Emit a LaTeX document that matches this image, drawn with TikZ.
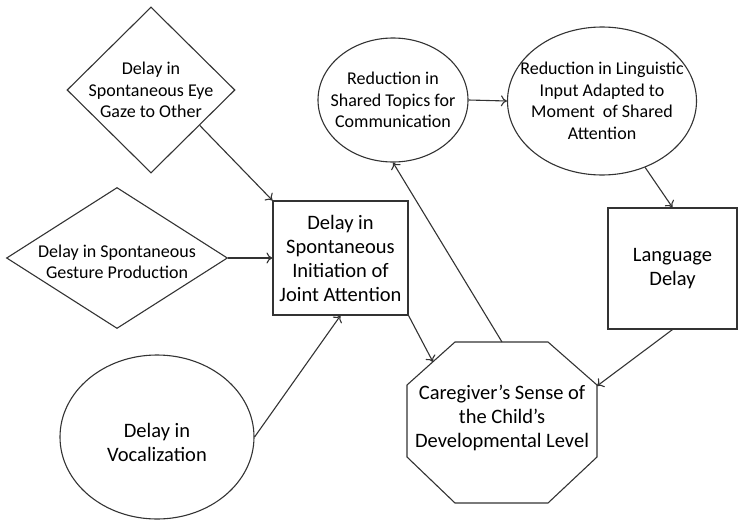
\documentclass[tikz,border=0pt]{standalone}
\usepackage{fontspec}
\setmainfont{Carlito}
\usetikzlibrary{arrows.meta,shapes.geometric}
\tikzset{smalltext/.style={font=\fontsize{18}{21.5}\selectfont,align=center},
         bigtext/.style={font=\fontsize{20.5}{24}\selectfont,align=center},
         blk/.style={draw=black!80,line width=1.1pt,inner sep=0pt},
         octline/.style={draw=black!80,line width=1.1pt,line join=round},
         link/.style={-{To[length=6pt,width=11pt]},draw=black!80,line width=1.1pt}}

\begin{document}
\begin{tikzpicture}[x=1pt,y=-1pt]
\useasboundingbox (0,0) rectangle (738,522);

\node[blk,diamond,minimum width=168pt,minimum height=166pt,
      label={[smalltext]center:{Delay in\\Spontaneous Eye\\Gaze to Other}}] (gaze) at (151,90) {};
\node[blk,diamond,minimum width=221pt,minimum height=141pt,
      label={[smalltext,yshift=-4pt]center:{Delay in Spontaneous\\Gesture Production}}] (gesture) at (117,258) {};
\node[blk,ellipse,minimum width=194pt,minimum height=164pt,
      label={[bigtext,yshift=-5pt]center:{Delay in\\Vocalization}}] (vocal) at (157,437) {};

\node[blk,bigtext,rectangle,minimum width=135pt,minimum height=114pt] (joint) at (340.5,258) {Delay in\\Spontaneous\\Initiation of\\Joint Attention};

\node[blk,ellipse,minimum width=150pt,minimum height=124pt,
      label={[smalltext]center:{Reduction in\\Shared Topics for\\Communication}}] (topics) at (393,100) {};
\node[blk,ellipse,minimum width=189pt,minimum height=148pt,
      label={[smalltext]center:{Reduction in Linguistic\\Input Adapted to\\Moment\ \ of Shared\\Attention}}] (input) at (602,101) {};

\node[blk,bigtext,rectangle,minimum width=129pt,minimum height=121pt] (lang) at (672.5,268.5) {Language\\Delay};

% octagon
\draw[octline] (455,342) -- (548,342) -- (597,385) -- (597,457) -- (548,503) -- (455,503) -- (407,457) -- (407,385) -- cycle;
\node[bigtext,inner sep=0pt] (care) at (502,418) {Caregiver’s Sense of\\the Child’s\\Developmental Level};
\coordinate (careN) at (502,342);
\coordinate (careNW) at (433,362);
\coordinate (careNE) at (597,386);

\draw[link] (gaze.-36) -- (joint.north west);
\draw[link] (gesture.east) -- (joint.west);
\draw[link] (vocal.east) -- (joint.south);
\draw[link] (joint.south east) -- (careNW);
\draw[link] (careN) -- (topics.south);
\draw[link] (topics.east) -- (input.west);
\draw[link] (input.-57) -- (lang.north);
\draw[link] (lang.south) -- (careNE);
\end{tikzpicture}
\end{document}
